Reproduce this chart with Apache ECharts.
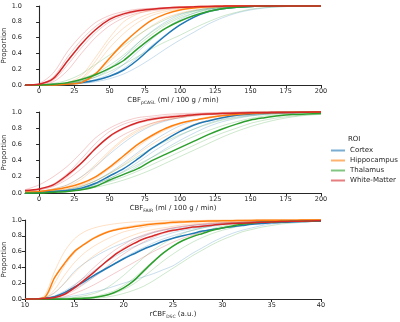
<!DOCTYPE html>
<html>
<head>
<meta charset="utf-8">
<script src="https://cdn.jsdelivr.net/npm/echarts@6/dist/echarts.min.js"></script>
<style>
    html, body { margin: 0; padding: 0; background: #fff; }
    #main { width: 400px; height: 322px; }
</style>
</head>
<body>
<div id="main"></div>
<script>
// x sample points (ml / 100 g / min) for pCASL and FAIR, a.u. for DSC
var xCbf = [-10, 0, 10, 20, 30, 40, 50, 60, 70, 80, 90, 100, 110, 120, 130, 140, 150, 160, 170, 180, 190, 200];
var xDsc = [10, 11, 12, 13, 14, 15, 16, 17, 18, 19, 20, 21, 22, 23, 24, 25, 26, 27, 28, 29, 30, 31, 32, 33, 34, 35, 36, 37, 38, 39, 40];

var cbfTicks = [0, 25, 50, 75, 100, 125, 150, 175, 200];
var dscTicks = [10, 15, 20, 25, 30, 35, 40];
var yTicks = [0, 0.2, 0.4, 0.6, 0.8, 1.0];

var rois = ['Cortex', 'Hippocampus', 'Thalamus', 'White-Matter'];

// group means, pCASL
var cortexPcasl = [0, 0, 0.005, 0.01, 0.03, 0.06, 0.11, 0.19, 0.32, 0.48, 0.63, 0.76, 0.86, 0.93, 0.965, 0.985, 0.995, 1, 1, 1, 1, 1];
var hippoPcasl = [0, 0, 0, 0.01, 0.03, 0.14, 0.34, 0.53, 0.69, 0.82, 0.9, 0.95, 0.975, 0.99, 0.995, 1, 1, 1, 1, 1, 1, 1];
var thalPcasl = [0, 0, 0.01, 0.03, 0.07, 0.13, 0.21, 0.31, 0.46, 0.6, 0.72, 0.81, 0.88, 0.93, 0.965, 0.985, 0.995, 1, 1, 1, 1, 1];
var wmPcasl = [0, 0.01, 0.08, 0.3, 0.52, 0.7, 0.83, 0.9, 0.94, 0.96, 0.975, 0.985, 0.99, 0.995, 0.998, 1, 1, 1, 1, 1, 1, 1];

// group means, FAIR
var cortexFair = [0, 0.01, 0.02, 0.03, 0.06, 0.12, 0.21, 0.3, 0.42, 0.55, 0.66, 0.76, 0.84, 0.89, 0.93, 0.96, 0.975, 0.985, 0.99, 0.995, 0.998, 1];
var hippoFair = [0.01, 0.02, 0.04, 0.07, 0.12, 0.2, 0.32, 0.46, 0.6, 0.71, 0.8, 0.86, 0.9, 0.93, 0.955, 0.97, 0.98, 0.99, 0.993, 0.996, 0.998, 1];
var thalFair = [0, 0, 0.01, 0.02, 0.04, 0.08, 0.16, 0.23, 0.3, 0.4, 0.48, 0.56, 0.64, 0.72, 0.79, 0.85, 0.9, 0.93, 0.955, 0.97, 0.975, 0.98];
var wmFair = [0.03, 0.05, 0.1, 0.22, 0.37, 0.55, 0.7, 0.8, 0.87, 0.91, 0.935, 0.95, 0.965, 0.975, 0.98, 0.985, 0.99, 0.99, 0.995, 0.995, 0.998, 1];

// group means, DSC
var cortexDsc = [0, 0, 0.01, 0.03, 0.08, 0.15, 0.22, 0.3, 0.37, 0.44, 0.51, 0.57, 0.63, 0.68, 0.73, 0.77, 0.8, 0.83, 0.86, 0.88, 0.9, 0.915, 0.93, 0.945, 0.955, 0.965, 0.97, 0.975, 0.98, 0.983, 0.985];
var hippoDsc = [0, 0, 0.02, 0.27, 0.45, 0.6, 0.69, 0.77, 0.83, 0.87, 0.895, 0.915, 0.935, 0.95, 0.96, 0.97, 0.975, 0.98, 0.985, 0.987, 0.99, 0.992, 0.994, 0.995, 0.996, 0.997, 0.998, 0.998, 0.999, 1, 1];
var thalDsc = [0, 0, 0, 0, 0, 0.005, 0.01, 0.02, 0.04, 0.08, 0.14, 0.23, 0.35, 0.47, 0.58, 0.67, 0.74, 0.79, 0.83, 0.87, 0.9, 0.925, 0.945, 0.96, 0.97, 0.975, 0.98, 0.983, 0.985, 0.988, 0.99];
var wmDsc = [0, 0, 0.005, 0.02, 0.06, 0.14, 0.24, 0.34, 0.45, 0.55, 0.63, 0.7, 0.76, 0.8, 0.84, 0.87, 0.89, 0.91, 0.92, 0.935, 0.945, 0.955, 0.96, 0.965, 0.97, 0.975, 0.98, 0.983, 0.985, 0.988, 0.99];

// single subjects, pCASL
var cortexPcaslSubj = [
    [0, 0, 0, 0.01, 0.03, 0.07, 0.14, 0.26, 0.42, 0.58, 0.72, 0.83, 0.91, 0.96, 0.98, 0.99, 1, 1, 1, 1, 1, 1],
    [0, 0, 0, 0.005, 0.02, 0.04, 0.08, 0.14, 0.23, 0.34, 0.46, 0.57, 0.67, 0.77, 0.85, 0.91, 0.95, 0.975, 0.99, 0.995, 1, 1],
    [0, 0, 0.005, 0.02, 0.05, 0.1, 0.2, 0.35, 0.53, 0.68, 0.8, 0.89, 0.94, 0.97, 0.985, 0.995, 1, 1, 1, 1, 1, 1],
    [0, 0, 0, 0.01, 0.02, 0.05, 0.11, 0.21, 0.35, 0.5, 0.64, 0.76, 0.86, 0.92, 0.96, 0.98, 0.99, 1, 1, 1, 1, 1]
];
var hippoPcaslSubj = [
    [0, 0, 0.01, 0.03, 0.12, 0.35, 0.6, 0.8, 0.9, 0.95, 0.975, 0.99, 0.995, 1, 1, 1, 1, 1, 1, 1, 1, 1],
    [0, 0, 0, 0.02, 0.07, 0.25, 0.47, 0.65, 0.79, 0.88, 0.93, 0.96, 0.98, 0.99, 0.995, 1, 1, 1, 1, 1, 1, 1],
    [0, 0, 0, 0.01, 0.04, 0.15, 0.3, 0.46, 0.62, 0.75, 0.85, 0.91, 0.95, 0.975, 0.99, 0.995, 1, 1, 1, 1, 1, 1],
    [0, 0, 0.005, 0.02, 0.08, 0.3, 0.55, 0.72, 0.84, 0.91, 0.95, 0.97, 0.985, 0.995, 1, 1, 1, 1, 1, 1, 1, 1]
];
var thalPcaslSubj = [
    [0, 0, 0.02, 0.06, 0.14, 0.26, 0.38, 0.5, 0.63, 0.74, 0.83, 0.9, 0.94, 0.97, 0.985, 0.995, 1, 1, 1, 1, 1, 1],
    [0, 0, 0.01, 0.02, 0.05, 0.1, 0.17, 0.26, 0.36, 0.46, 0.55, 0.63, 0.72, 0.8, 0.87, 0.92, 0.96, 0.98, 0.99, 0.995, 1, 1],
    [0, 0, 0.01, 0.03, 0.08, 0.15, 0.25, 0.38, 0.53, 0.67, 0.78, 0.87, 0.93, 0.96, 0.98, 0.99, 1, 1, 1, 1, 1, 1],
    [0, 0, 0, 0.02, 0.05, 0.12, 0.22, 0.35, 0.5, 0.64, 0.76, 0.85, 0.91, 0.95, 0.975, 0.99, 1, 1, 1, 1, 1, 1]
];
var wmPcaslSubj = [
    [0, 0.02, 0.15, 0.42, 0.63, 0.79, 0.88, 0.93, 0.96, 0.97, 0.98, 0.99, 0.995, 1, 1, 1, 1, 1, 1, 1, 1, 1],
    [0, 0.005, 0.04, 0.18, 0.4, 0.6, 0.75, 0.85, 0.91, 0.94, 0.96, 0.975, 0.985, 0.99, 0.995, 1, 1, 1, 1, 1, 1, 1],
    [0, 0.01, 0.1, 0.35, 0.57, 0.74, 0.85, 0.91, 0.95, 0.965, 0.98, 0.985, 0.99, 0.995, 1, 1, 1, 1, 1, 1, 1, 1],
    [0, 0.01, 0.06, 0.25, 0.47, 0.66, 0.8, 0.88, 0.93, 0.955, 0.97, 0.98, 0.99, 0.995, 1, 1, 1, 1, 1, 1, 1, 1]
];

// single subjects, FAIR
var cortexFairSubj = [
    [0.01, 0.02, 0.05, 0.1, 0.2, 0.33, 0.48, 0.62, 0.74, 0.83, 0.89, 0.93, 0.96, 0.975, 0.985, 0.99, 1, 1, 1, 1, 1, 1],
    [0, 0.01, 0.02, 0.03, 0.06, 0.11, 0.18, 0.27, 0.38, 0.5, 0.61, 0.71, 0.79, 0.86, 0.91, 0.94, 0.96, 0.975, 0.985, 0.99, 0.995, 1],
    [0, 0.01, 0.02, 0.04, 0.08, 0.15, 0.25, 0.37, 0.5, 0.63, 0.74, 0.83, 0.89, 0.93, 0.96, 0.975, 0.985, 0.99, 1, 1, 1, 1],
    [0, 0.01, 0.02, 0.03, 0.05, 0.09, 0.15, 0.23, 0.33, 0.44, 0.55, 0.65, 0.74, 0.82, 0.88, 0.92, 0.95, 0.97, 0.98, 0.99, 0.995, 1]
];
var hippoFairSubj = [
    [0.01, 0.02, 0.04, 0.08, 0.17, 0.32, 0.5, 0.65, 0.76, 0.84, 0.9, 0.93, 0.96, 0.975, 0.985, 0.99, 0.995, 1, 1, 1, 1, 1],
    [0.01, 0.02, 0.03, 0.05, 0.09, 0.15, 0.24, 0.35, 0.48, 0.6, 0.7, 0.78, 0.85, 0.9, 0.93, 0.955, 0.97, 0.98, 0.99, 0.995, 1, 1],
    [0.01, 0.02, 0.05, 0.1, 0.2, 0.35, 0.52, 0.67, 0.78, 0.86, 0.91, 0.94, 0.96, 0.975, 0.985, 0.99, 1, 1, 1, 1, 1, 1],
    [0.01, 0.01, 0.03, 0.05, 0.1, 0.18, 0.3, 0.43, 0.57, 0.69, 0.78, 0.85, 0.9, 0.94, 0.96, 0.975, 0.985, 0.99, 0.995, 1, 1, 1]
];
var thalFairSubj = [
    [0, 0.01, 0.02, 0.04, 0.08, 0.15, 0.24, 0.34, 0.45, 0.55, 0.64, 0.72, 0.79, 0.85, 0.9, 0.93, 0.955, 0.97, 0.98, 0.985, 0.99, 0.995],
    [0, 0, 0.01, 0.02, 0.04, 0.07, 0.11, 0.16, 0.22, 0.29, 0.37, 0.45, 0.53, 0.61, 0.69, 0.76, 0.82, 0.87, 0.91, 0.94, 0.96, 0.97],
    [0, 0, 0.01, 0.02, 0.05, 0.09, 0.14, 0.2, 0.27, 0.35, 0.43, 0.51, 0.59, 0.67, 0.74, 0.8, 0.86, 0.9, 0.93, 0.95, 0.965, 0.975],
    [0, 0.01, 0.02, 0.03, 0.06, 0.11, 0.18, 0.26, 0.35, 0.44, 0.53, 0.62, 0.7, 0.77, 0.83, 0.88, 0.92, 0.95, 0.965, 0.975, 0.985, 0.99]
];
var wmFairSubj = [
    [0.04, 0.1, 0.2, 0.33, 0.5, 0.68, 0.8, 0.88, 0.93, 0.95, 0.97, 0.98, 0.985, 0.99, 0.995, 1, 1, 1, 1, 1, 1, 1],
    [0.02, 0.04, 0.08, 0.17, 0.3, 0.46, 0.61, 0.72, 0.8, 0.86, 0.9, 0.93, 0.95, 0.965, 0.975, 0.985, 0.99, 0.995, 1, 1, 1, 1],
    [0.03, 0.05, 0.11, 0.24, 0.42, 0.61, 0.76, 0.85, 0.9, 0.93, 0.95, 0.965, 0.975, 0.985, 0.99, 0.995, 1, 1, 1, 1, 1, 1],
    [0.02, 0.04, 0.09, 0.2, 0.36, 0.54, 0.69, 0.79, 0.86, 0.9, 0.93, 0.95, 0.965, 0.975, 0.985, 0.99, 0.995, 1, 1, 1, 1, 1]
];

// single subjects, DSC
var cortexDscSubj = [
    [0, 0, 0.02, 0.08, 0.2, 0.35, 0.45, 0.53, 0.6, 0.66, 0.71, 0.76, 0.8, 0.84, 0.87, 0.89, 0.91, 0.93, 0.94, 0.95, 0.96, 0.965, 0.97, 0.975, 0.98, 0.985, 0.985, 0.99, 0.99, 0.995, 0.995],
    [0, 0, 0, 0.01, 0.02, 0.04, 0.06, 0.09, 0.12, 0.16, 0.2, 0.24, 0.28, 0.32, 0.37, 0.42, 0.5, 0.58, 0.65, 0.72, 0.78, 0.83, 0.87, 0.9, 0.93, 0.95, 0.96, 0.97, 0.975, 0.98, 0.985],
    [0, 0, 0.01, 0.04, 0.1, 0.18, 0.27, 0.36, 0.45, 0.53, 0.6, 0.66, 0.71, 0.76, 0.8, 0.84, 0.87, 0.89, 0.91, 0.93, 0.945, 0.955, 0.965, 0.97, 0.975, 0.98, 0.985, 0.985, 0.99, 0.99, 0.995],
    [0, 0, 0.01, 0.03, 0.07, 0.13, 0.2, 0.28, 0.36, 0.44, 0.52, 0.59, 0.65, 0.71, 0.76, 0.8, 0.84, 0.87, 0.9, 0.92, 0.94, 0.95, 0.96, 0.97, 0.975, 0.98, 0.985, 0.99, 0.99, 0.995, 0.995]
];
var hippoDscSubj = [
    [0, 0, 0.05, 0.35, 0.6, 0.76, 0.85, 0.9, 0.93, 0.95, 0.965, 0.975, 0.98, 0.985, 0.99, 0.99, 0.995, 0.995, 0.995, 1, 1, 1, 1, 1, 1, 1, 1, 1, 1, 1, 1],
    [0, 0, 0.01, 0.08, 0.2, 0.33, 0.45, 0.55, 0.63, 0.7, 0.76, 0.81, 0.85, 0.88, 0.9, 0.92, 0.94, 0.95, 0.96, 0.97, 0.975, 0.98, 0.985, 0.99, 0.99, 0.99, 0.995, 0.995, 0.995, 1, 1],
    [0, 0, 0.02, 0.2, 0.42, 0.58, 0.7, 0.78, 0.84, 0.88, 0.91, 0.93, 0.95, 0.96, 0.97, 0.975, 0.98, 0.985, 0.99, 0.99, 0.995, 0.995, 0.995, 1, 1, 1, 1, 1, 1, 1, 1],
    [0, 0, 0.01, 0.12, 0.3, 0.46, 0.58, 0.67, 0.74, 0.8, 0.85, 0.88, 0.91, 0.93, 0.945, 0.955, 0.965, 0.975, 0.98, 0.985, 0.99, 0.99, 0.995, 0.995, 0.995, 1, 1, 1, 1, 1, 1]
];
var thalDscSubj = [
    [0, 0, 0, 0, 0.01, 0.02, 0.04, 0.07, 0.12, 0.2, 0.3, 0.41, 0.52, 0.62, 0.7, 0.77, 0.83, 0.87, 0.9, 0.93, 0.95, 0.96, 0.97, 0.975, 0.98, 0.985, 0.99, 0.99, 0.995, 0.995, 1],
    [0, 0, 0, 0, 0, 0, 0.005, 0.01, 0.02, 0.04, 0.07, 0.11, 0.16, 0.23, 0.31, 0.39, 0.47, 0.55, 0.62, 0.69, 0.75, 0.8, 0.85, 0.88, 0.91, 0.93, 0.95, 0.96, 0.97, 0.98, 0.985],
    [0, 0, 0, 0, 0, 0.01, 0.02, 0.03, 0.06, 0.1, 0.17, 0.26, 0.37, 0.48, 0.58, 0.67, 0.74, 0.8, 0.85, 0.89, 0.92, 0.94, 0.955, 0.965, 0.975, 0.98, 0.985, 0.99, 0.99, 0.995, 0.995],
    [0, 0, 0, 0, 0, 0.005, 0.01, 0.02, 0.04, 0.07, 0.12, 0.19, 0.28, 0.38, 0.48, 0.57, 0.65, 0.72, 0.78, 0.83, 0.87, 0.9, 0.93, 0.95, 0.96, 0.97, 0.98, 0.985, 0.99, 0.99, 0.995]
];
var wmDscSubj = [
    [0, 0, 0.01, 0.03, 0.08, 0.17, 0.28, 0.4, 0.51, 0.61, 0.69, 0.76, 0.81, 0.85, 0.88, 0.9, 0.92, 0.935, 0.95, 0.96, 0.965, 0.97, 0.975, 0.98, 0.985, 0.985, 0.99, 0.99, 0.995, 0.995, 1],
    [0, 0, 0, 0.01, 0.03, 0.07, 0.12, 0.18, 0.25, 0.32, 0.39, 0.46, 0.53, 0.6, 0.66, 0.72, 0.77, 0.81, 0.85, 0.88, 0.9, 0.92, 0.94, 0.95, 0.96, 0.97, 0.975, 0.98, 0.985, 0.99, 0.99],
    [0, 0, 0.01, 0.02, 0.06, 0.13, 0.23, 0.34, 0.45, 0.56, 0.65, 0.73, 0.79, 0.84, 0.87, 0.9, 0.92, 0.935, 0.945, 0.955, 0.965, 0.97, 0.975, 0.98, 0.985, 0.985, 0.99, 0.99, 0.995, 0.995, 1],
    [0, 0, 0, 0.02, 0.05, 0.11, 0.19, 0.28, 0.38, 0.48, 0.57, 0.65, 0.72, 0.78, 0.83, 0.86, 0.89, 0.91, 0.93, 0.94, 0.955, 0.965, 0.97, 0.975, 0.98, 0.985, 0.99, 0.99, 0.995, 0.995, 1]
];

var colors = ['#1f77b4', '#ff7f0e', '#2ca02c', '#d62728'];
var legendColors = ['rgba(31,119,180,0.6)', 'rgba(255,127,14,0.6)', 'rgba(44,160,44,0.6)', 'rgba(214,39,40,0.6)'];
var font = 'DejaVu Sans';
var ink = '#262626';

var panels = [
    {xs: xCbf, means: [cortexPcasl, hippoPcasl, thalPcasl, wmPcasl],
        subj: [cortexPcaslSubj, hippoPcaslSubj, thalPcaslSubj, wmPcaslSubj]},
    {xs: xCbf, means: [cortexFair, hippoFair, thalFair, wmFair],
        subj: [cortexFairSubj, hippoFairSubj, thalFairSubj, wmFairSubj]},
    {xs: xDsc, means: [cortexDsc, hippoDsc, thalDsc, wmDsc],
        subj: [cortexDscSubj, hippoDscSubj, thalDscSubj, wmDscSubj]}
];

function pairs(xs, ys) {
    return xs.map(function (x, i) { return [x, ys[i]]; });
}

var series = [];
panels.forEach(function (p, k) {
    // thin lines first so the means sit on top
    p.subj.forEach(function (group, r) {
        group.forEach(function (ys) {
            series.push({
                type: 'line', xAxisIndex: k, yAxisIndex: k,
                data: pairs(p.xs, ys), showSymbol: false, smooth: 0.3,
                clip: false, silent: true,
                lineStyle: {color: colors[r], width: 0.75, opacity: 0.32}
            });
        });
    });
    p.means.forEach(function (ys, r) {
        series.push({
            name: rois[r], type: 'line', xAxisIndex: k, yAxisIndex: k,
            data: pairs(p.xs, ys), showSymbol: false, smooth: 0.3,
            clip: false, z: 3,
            itemStyle: {color: colors[r]},
            lineStyle: {color: colors[r], width: 1.5}
        });
    });
});

var axisLine = {lineStyle: {color: ink, width: 1.1}};
var tickLine = {color: ink, width: 1};

function xAxis(idx, min, max, ticks, name) {
    return {
        type: 'value', gridIndex: idx, min: min, max: max,
        axisLine: axisLine,
        axisTick: {show: true, length: 3, lineStyle: tickLine, customValues: ticks},
        axisLabel: {color: ink, fontFamily: font, fontSize: 6.5, margin: 3, customValues: ticks},
        splitLine: {show: false},
        name: name, nameLocation: 'middle', nameGap: 11, nameMoveOverlap: false,
        nameTextStyle: {
            color: ink, fontFamily: font,
            rich: {
                a: {fontSize: 7, fontFamily: font, color: ink},
                b: {fontSize: 4.5, fontFamily: font, color: ink, verticalAlign: 'bottom', padding: [4, 0, 0, 0]}
            }
        }
    };
}

function yAxis(idx) {
    return {
        type: 'value', gridIndex: idx, min: 0, max: 1, interval: 0.2,
        axisLine: {show: true, lineStyle: axisLine.lineStyle},
        axisTick: {show: true, length: 3, lineStyle: tickLine},
        axisLabel: {color: ink, fontFamily: font, fontSize: 6.5, margin: 3,
            customValues: yTicks,
            formatter: function (v) { return v.toFixed(1); }},
        splitLine: {show: false},
        name: 'Proportion', nameLocation: 'middle', nameGap: 17, nameMoveOverlap: false,
        nameTextStyle: {color: ink, fontFamily: font, fontSize: 7}
    };
}

var chart = echarts.init(document.getElementById('main'));

var option = {
    backgroundColor: '#fff',
    animation: false,
    title: {
        text: 'ROI', left: 348, top: 136, padding: 0,
        textStyle: {color: ink, fontFamily: font, fontSize: 7, fontWeight: 'normal'}
    },
    legend: {
        orient: 'vertical', left: 331, top: 147, padding: 0,
        itemWidth: 14, itemHeight: 2, itemGap: 3,
        icon: 'rect',
        textStyle: {color: ink, fontFamily: font, fontSize: 7},
        data: rois.map(function (n, i) {
            return {name: n, itemStyle: {color: legendColors[i]}};
        })
    },
    grid: [
        {left: 25, right: 79, top: 6, height: 79, containLabel: false, outerBoundsMode: 'none'},
        {left: 25, right: 79, top: 112, height: 81, containLabel: false, outerBoundsMode: 'none'},
        {left: 25, right: 79, top: 220, height: 79, containLabel: false, outerBoundsMode: 'none'}
    ],
    xAxis: [
        xAxis(0, -10, 200, cbfTicks, '{a|CBF}{b|pCASL}{a| (ml / 100 g / min)}'),
        xAxis(1, -10, 200, cbfTicks, '{a|CBF}{b|FAIR}{a| (ml / 100 g / min)}'),
        xAxis(2, 10, 40, dscTicks, '{a|rCBF}{b|DSC}{a| (a.u.)}')
    ],
    yAxis: [yAxis(0), yAxis(1), yAxis(2)],
    series: series
};

chart.setOption(option);
</script>
</body>
</html>
